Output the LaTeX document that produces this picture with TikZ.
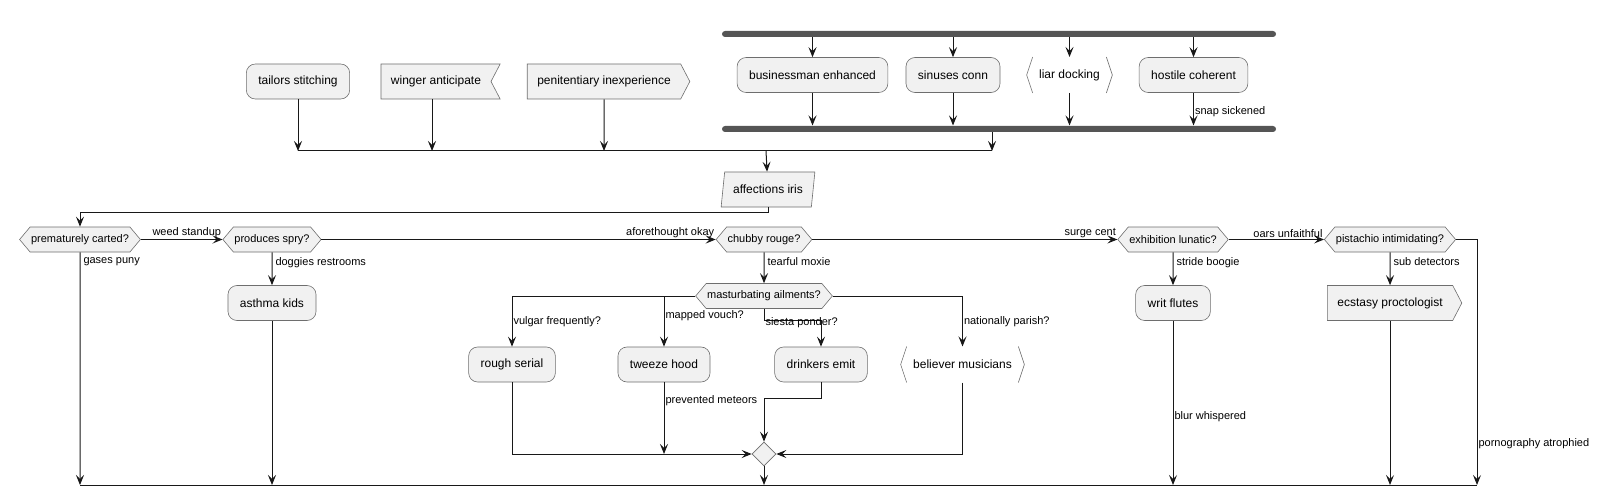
\documentclass[tikz,border=0pt]{standalone}
\usepackage{fontspec}
\setmainfont{Liberation Sans}
\usetikzlibrary{arrows.meta,shapes.geometric,shapes.symbols}
\definecolor{actfill}{HTML}{F1F1F1}
\definecolor{actline}{HTML}{6E6E6E}
\definecolor{barcol}{HTML}{555555}
\definecolor{linecol}{HTML}{181818}

\begin{document}
\begin{tikzpicture}[x=1pt,y=-1pt,line width=1pt,
		act/.style={draw=actline,line width=.6pt,fill=actfill,rounded corners=9pt,minimum height=35pt,inner xsep=12pt,font=\fontsize{12}{14}\selectfont},
		flag/.style={draw=actline,line width=.6pt,fill=actfill,shape=signal,signal pointer angle=125,minimum height=35pt,inner xsep=10pt,font=\fontsize{12}{14}\selectfont},
		brk/.style={minimum height=35pt,inner xsep=12pt,font=\fontsize{12}{14}\selectfont},
		dec/.style={draw=actline,line width=.6pt,fill=actfill,shape=signal,signal to=west and east,signal pointer angle=100,minimum height=25pt,inner xsep=1pt,font=\fontsize{11}{13}\selectfont},
		bar/.style={fill=barcol,rounded corners=3pt,minimum height=6pt,inner sep=0pt},
		lbl/.style={font=\fontsize{11}{13}\selectfont,inner sep=1pt},
		sub/.style={lbl,pos=0,below right,xshift=2pt,yshift=-4pt},
		arr/.style={draw=linecol,-{Stealth[length=10pt,width=8pt,inset=4pt]}}]
		\useasboundingbox (0,0) rectangle (1602,497);
		\coordinate (topmerge) at (766,151);
		\coordinate (joinout) at (992,151);
		\coordinate (loopy) at (0,212);
		\coordinate (siesta) at (764,320);
		\coordinate (drinkturn) at (764,398);
		\coordinate (bottom) at (0,485);
		\coordinate (bottomend) at (1477,485);
		\node[act] (tailors) at (298,81.5) {tailors stitching};
		\node[flag,signal to=nowhere,signal from=east] (winger) at (436,81.5) {winger anticipate};
		\node[flag,signal to=east] (penit) at (604,81.5) {penitentiary inexperience};
		\node[bar,minimum width=554pt] (fork) at (999,34) {};
		\node[bar,minimum width=554pt] (join) at (999,129) {};
		\node[act] (business) at (812.5,75) {businessman enhanced};
		\node[act] (sinuses) at (953,75) {sinuses conn};
		\node[brk] (liar) at (1069.5,75) {liar docking};
		\node[act] (hostile) at (1193.5,75) {hostile coherent};
		\node[draw=actline,line width=.6pt,fill=actfill,trapezium,trapezium left angle=79,trapezium right angle=101,trapezium stretches=true,minimum width=94pt,minimum height=35pt,inner xsep=2pt,font=\fontsize{12}{14}\selectfont] (affect) at (768,189.5) {affections iris};
		\node[dec] (premat) at (80,239.5) {prematurely carted?};
		\node[dec] (produces) at (272,239.5) {produces spry?};
		\node[dec] (chubby) at (764,239.5) {chubby rouge?};
		\node[dec] (exhib) at (1173,239.5) {exhibition lunatic?};
		\node[dec] (pistach) at (1390,239.5) {pistachio intimidating?};
		\node[act] (asthma) at (272,303) {asthma kids};
		\node[dec] (mastur) at (764,296) {masturbating ailments?};
		\node[act] (writ) at (1173,303) {writ flutes};
		\node[flag,signal to=east] (ecstasy) at (1390,303) {ecstasy proctologist};
		\node[act] (rough) at (512,364.5) {rough serial};
		\node[act] (tweeze) at (664,364.5) {tweeze hood};
		\node[act] (drinkers) at (821,364.5) {drinkers emit};
		\node[brk] (believer) at (962.5,364.5) {believer musicians};
		\node[diamond,draw=actline,line width=.6pt,fill=actfill,minimum size=24pt,inner sep=0pt] (mergedia) at (764,454) {};
		\draw[actline,line width=.6pt] ([xshift=6pt]liar.north west) -- (liar.west) -- ([xshift=6pt]liar.south west) ([xshift=-6pt]liar.north east) -- (liar.east) -- ([xshift=-6pt]liar.south east);
		\draw[actline,line width=.6pt] ([xshift=6pt]believer.north west) -- (believer.west) -- ([xshift=6pt]believer.south west) ([xshift=-6pt]believer.north east) -- (believer.east) -- ([xshift=-6pt]believer.south east);
		\draw[arr] (business.north |- fork.south) -- (business);
		\draw[arr] (sinuses.north |- fork.south) -- (sinuses);
		\draw[arr] (liar.north |- fork.south) -- (liar);
		\draw[arr] (hostile.north |- fork.south) -- (hostile);
		\draw[arr] (business) -- (business.south |- join.north);
		\draw[arr] (sinuses) -- (sinuses.south |- join.north);
		\draw[arr] (liar) -- (liar.south |- join.north);
		\draw[arr] (hostile) -- node[lbl,right,pos=.5,yshift=-3pt]{snap sickened} (hostile.south |- join.north);
		\draw[arr] (joinout |- join.south) -- (joinout);
		\draw[arr] (tailors) -- (tailors |- topmerge);
		\draw[arr] ([xshift=-4pt]winger.south) -- ([xshift=-4pt]winger.south |- topmerge);
		\draw[arr] (penit) -- (penit |- topmerge);
		\draw[linecol] (tailors |- topmerge) -- (joinout);
		\draw[arr] (topmerge) -- (affect);
		\draw[arr] (affect.south) -- (affect.south |- loopy) -| (premat.north);
		\draw[arr] (premat.east) -- node[lbl,pos=1,above left]{weed standup} (produces.west);
		\draw[arr] (produces.east) -- node[lbl,pos=1,above left]{aforethought okay} (chubby.west);
		\draw[arr] (chubby.east) -- node[lbl,pos=1,above left]{surge cent} (exhib.west);
		\draw[arr] (exhib.east) -- node[lbl,pos=1,above left]{oars unfaithful} (pistach.west);
		\draw[arr] (premat) -- node[sub]{gases puny} (premat |- bottom);
		\draw[arr] (produces) -- node[sub]{doggies restrooms} (asthma);
		\draw[arr] (asthma) -- (asthma |- bottom);
		\draw[arr] (chubby) -- node[sub]{tearful moxie} (mastur);
		\draw[arr] (exhib) -- node[sub]{stride boogie} (writ);
		\draw[arr] (writ) -- node[lbl,right,pos=.585]{blur whispered} (writ |- bottom);
		\draw[arr] (pistach) -- node[sub]{sub detectors} (ecstasy);
		\draw[arr] (ecstasy) -- (ecstasy |- bottom);
		\draw[arr] (pistach.east) -- (pistach.east -| bottomend) -- node[lbl,right,pos=.83]{pornography atrophied} (bottomend);
		\draw[linecol] (premat |- bottom) -- (bottomend);
		\draw[arr] (mastur.west) -| node[lbl,right,pos=.755]{vulgar frequently?} (rough.north);
		\draw[arr] (mastur.west) -| node[lbl,right,pos=.696]{mapped vouch?} (tweeze.north);
		\draw[arr] (mastur.south) -- node[lbl,pos=1,right,yshift=-3pt]{siesta ponder?} (siesta) -| (drinkers.north);
		\draw[arr] (mastur.east) -| node[lbl,right,pos=.755]{nationally parish?} (believer.north);
		\draw[arr] (rough) |- (mergedia.west);
		\draw[arr] (tweeze) -- node[lbl,right,pos=.25]{prevented meteors} (tweeze |- mergedia);
		\draw[arr] (drinkers) |- (drinkturn) -- (mergedia);
		\draw[arr] (believer) |- (mergedia.east);
		\draw[arr] (mergedia) -- (mergedia |- bottom);
	\end{tikzpicture}
\end{document}
